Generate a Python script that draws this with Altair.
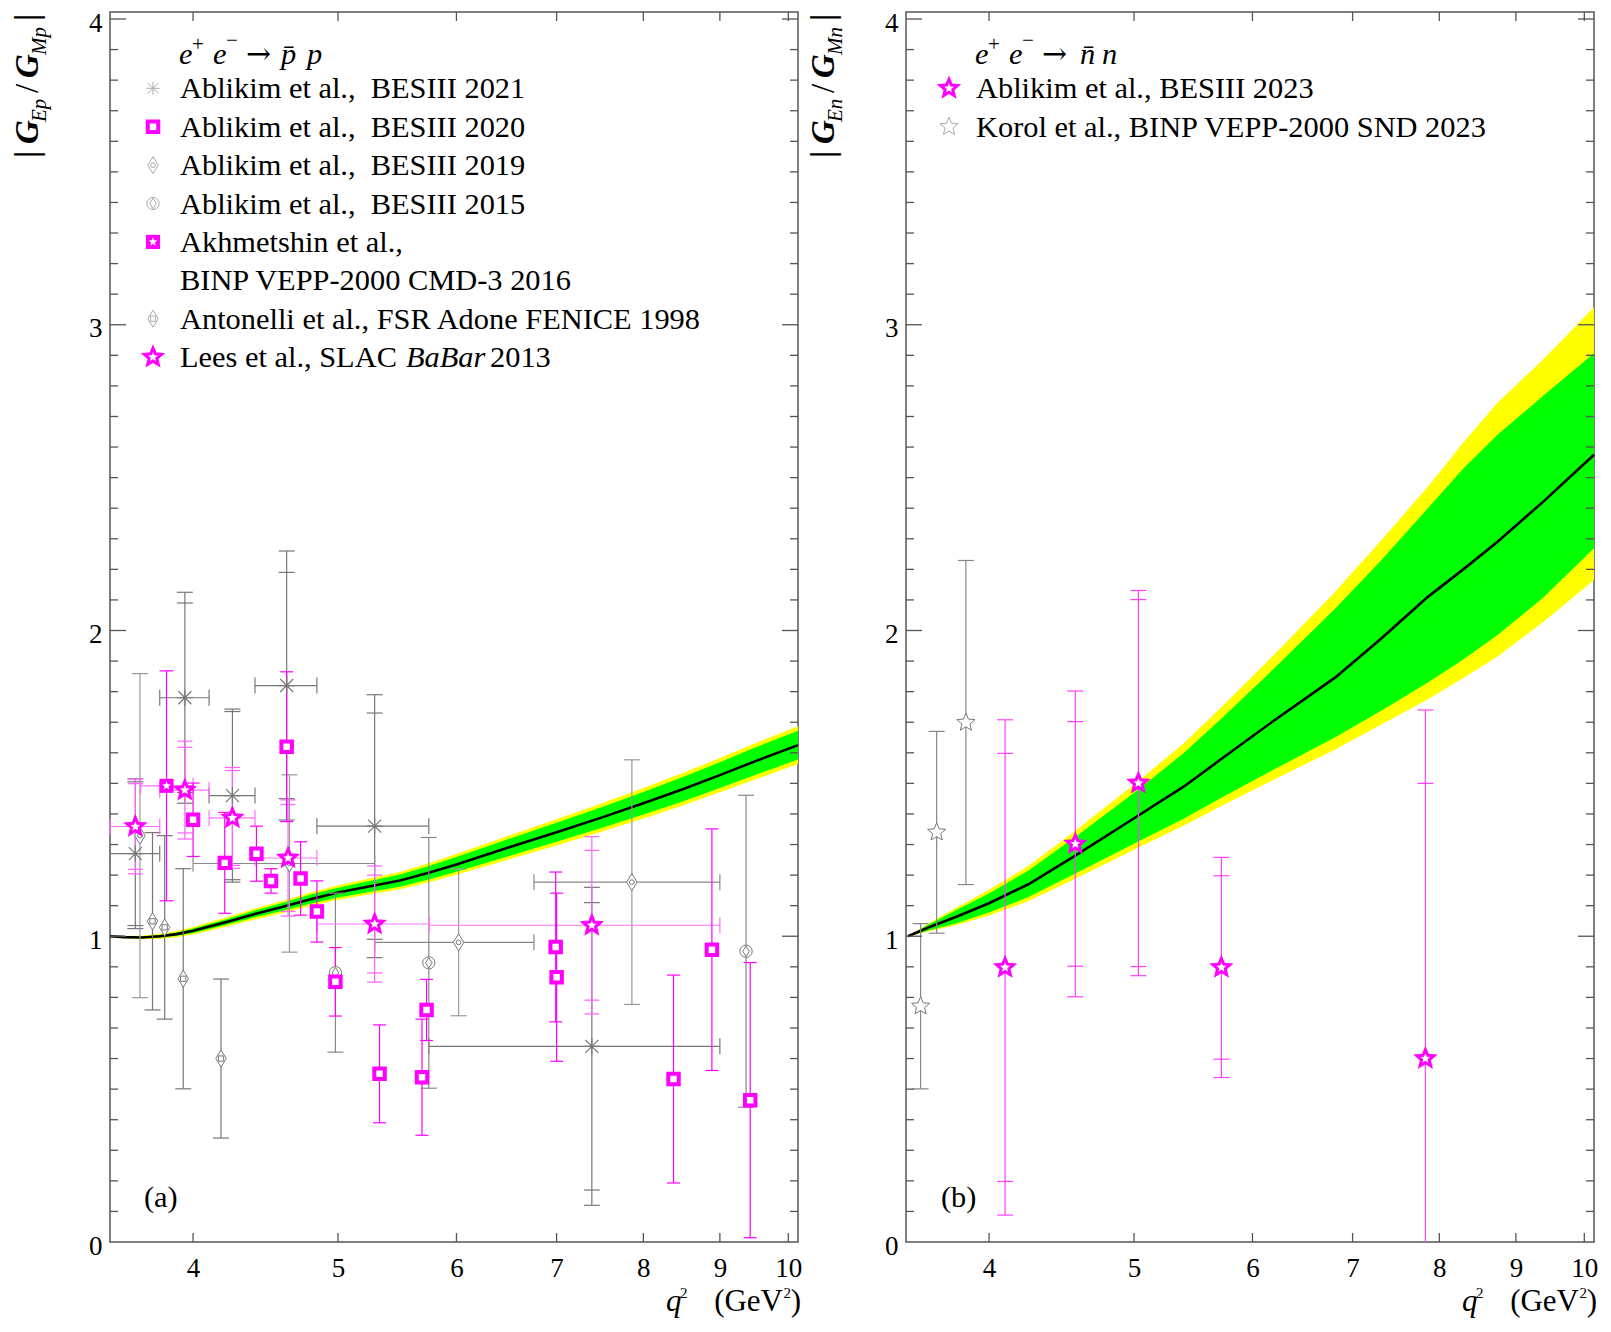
import math
import altair as alt
import pandas as pd

# ---------------- values ----------------
# (a) |G_Ep / G_Mp|
B21_x   = [3.66, 3.95, 4.25, 4.62, 5.29, 7.39]
B21_xlo = [3.52, 3.80, 4.10, 4.40, 4.84, 5.75]
B21_xhi = [3.80, 4.10, 4.40, 4.84, 5.75, 9.00]
B21_y   = [1.27, 1.78, 1.46, 1.82, 1.36, 0.64]
B21_es  = [0.235, 0.31, 0.275, 0.37, 0.37, 0.47]
B21_et  = [0.245, 0.345, 0.283, 0.44, 0.43, 0.52]

B20_x = [4.00, 4.20, 4.41, 4.51, 4.62, 4.72, 4.84, 4.98, 5.33, 5.69, 5.73, 6.99, 7.00, 8.38, 8.89, 9.43]
B20_y = [1.381, 1.240, 1.270, 1.181, 1.620, 1.189, 1.081, 0.851, 0.550, 0.539, 0.759, 0.965, 0.866, 0.533, 0.956, 0.464]
B20_e = [0.12, 0.165, 0.09, 0.04, 0.245, 0.12, 0.10, 0.112, 0.16, 0.19, 0.10, 0.245, 0.275, 0.34, 0.395, 0.45]

B19_x   = [3.686, 4.64, 6.02, 7.86]
B19_xlo = [None, 4.00, 5.29, 6.76]
B19_xhi = [None, 5.29, 6.76, 9.00]
B19_y   = [1.329, 1.238, 0.980, 1.177]
B19_e   = [0.53, 0.29, 0.24, 0.40]

B15_x = [4.98, 5.75, 9.37]
B15_y = [0.881, 0.913, 0.951]
B15_e = [0.26, 0.41, 0.51]

CMD_x = [3.84]
CMD_xlo = [3.69]
CMD_xhi = [4.00]
CMD_y = [1.492]
CMD_e = [0.376]

FEN_x = [3.758, 3.829, 3.94, 4.176]
FEN_y = [1.049, 1.029, 0.861, 0.600]
FEN_e = [0.29, 0.30, 0.36, 0.26]

BAB_x   = [3.66, 3.95, 4.25, 4.63, 5.29, 7.39]
BAB_xlo = [3.52, 3.80, 4.10, 4.40, 4.84, 5.75]
BAB_xhi = [3.80, 4.10, 4.40, 4.84, 5.75, 9.00]
BAB_y   = [1.359, 1.478, 1.387, 1.256, 1.040, 1.036]
BAB_es  = [0.14, 0.14, 0.155, 0.175, 0.16, 0.245]
BAB_et  = [0.155, 0.16, 0.165, 0.19, 0.19, 0.29]

# model curve and bands, panel (a)
CA_q  = [3.52, 3.60, 3.70, 3.80, 3.90, 4.00, 4.20, 4.40, 4.60, 4.80, 5.00, 5.50, 5.75, 6.00, 6.50, 7.00, 7.50, 8.00, 8.50, 9.00, 9.50, 10.15]
CA_c  = [1.000, 0.997, 0.996, 1.000, 1.007, 1.018, 1.045, 1.073, 1.097, 1.122, 1.143, 1.182, 1.208, 1.235, 1.290, 1.340, 1.388, 1.435, 1.481, 1.527, 1.572, 1.625]
CA_g  = [0.000, 0.001, 0.002, 0.004, 0.005, 0.007, 0.009, 0.011, 0.013, 0.015, 0.016, 0.020, 0.022, 0.024, 0.028, 0.031, 0.034, 0.037, 0.040, 0.042, 0.045, 0.047]
CA_y  = [0.002, 0.004, 0.006, 0.008, 0.010, 0.012, 0.015, 0.018, 0.020, 0.022, 0.024, 0.028, 0.031, 0.034, 0.039, 0.043, 0.046, 0.050, 0.053, 0.056, 0.059, 0.062]

# (b) |G_En / G_Mn|
N23_x  = [4.10, 4.568, 5.034, 5.72, 7.83]
N23_y  = [0.898, 1.302, 1.501, 0.898, 0.600]
N23_es = [0.70, 0.40, 0.60, 0.30, 0.90]
N23_et = [0.81, 0.50, 0.63, 0.36, 1.14]

SND_x = [3.60, 3.69, 3.86]
SND_y = [0.771, 1.340, 1.699]
SND_e = [0.27, 0.33, 0.53]

CB_q   = [3.531, 3.65, 3.80, 4.00, 4.25, 4.568, 5.034, 5.40, 5.728, 6.20, 6.81, 7.30, 7.86, 8.30, 8.75, 9.40, 10.15]
CB_c   = [1.000, 1.030, 1.063, 1.108, 1.170, 1.264, 1.395, 1.490, 1.582, 1.705, 1.845, 1.970, 2.110, 2.200, 2.290, 2.424, 2.575]
CB_glo = [1.000, 1.020, 1.042, 1.078, 1.128, 1.205, 1.310, 1.385, 1.455, 1.545, 1.650, 1.735, 1.830, 1.905, 1.985, 2.110, 2.269]
CB_ghi = [1.000, 1.040, 1.085, 1.140, 1.215, 1.325, 1.480, 1.600, 1.715, 1.875, 2.070, 2.225, 2.400, 2.530, 2.640, 2.770, 2.907]
CB_ylo = [1.000, 1.016, 1.036, 1.068, 1.115, 1.188, 1.290, 1.362, 1.428, 1.512, 1.610, 1.690, 1.775, 1.845, 1.915, 2.030, 2.165]
CB_yhi = [1.000, 1.044, 1.092, 1.152, 1.230, 1.345, 1.508, 1.632, 1.752, 1.920, 2.125, 2.290, 2.470, 2.615, 2.745, 2.890, 3.057]

# axis labels
X_TICKS = [4, 5, 6, 7, 8, 9, 10]
Y_TICKS = [0, 1, 2, 3, 4]
Y_MINOR = [i / 10 for i in range(1, 41) if i % 10]

# ---------------- styling ----------------
W, H = 688, 1230
XDOM = [3.52, 10.15]
YDOM = [0.0, 4.0229]
FONT = "Liberation Serif"
MAG = "#ff00ff"
FRAME = "#555555"
FS = 30.4

xs = alt.Scale(type="log", domain=XDOM, nice=False)
ys = alt.Scale(domain=YDOM, nice=False, zero=False)

XAX = alt.Axis(values=X_TICKS, format="d", title=None, grid=False, domain=False, ticks=False,
               tickSize=0, labelPadding=13, labelFont=FONT, labelFontSize=27, labelColor="black",
               labelFlush=False, labelOverlap=False)
YAX = alt.Axis(values=Y_TICKS, format="d", title=None, grid=False, domain=False, ticks=False,
               tickSize=0, labelPadding=8, labelOffset=4, labelFont=FONT, labelFontSize=27,
               labelColor="black", labelFlush=False, labelOverlap=False)


def X(f):
    return alt.X(f"{f}:Q", scale=xs, axis=XAX)


def Y(f):
    return alt.Y(f"{f}:Q", scale=ys, axis=YAX)


def star_path(r_in=0.45):
    pts = []
    for k in range(10):
        a = math.radians(-90 + 36 * k)
        r = 1.0 if k % 2 == 0 else r_in
        pts.append(f"{r * math.cos(a):.3f},{r * math.sin(a):.3f}")
    return "M" + "L".join(pts) + "Z"


STAR = star_path()
AST = "M-1,-1L1,1M-1,1L1,-1M0,-1.25L0,1.25M-1.25,0L1.25,0"
DIAM = "M0,-1L0.62,0L0,1L-0.62,0Z"


def vbars(x, y, et, es=None, color="#888", width=1.2, cap=14, clip=False):
    d = pd.DataFrame({"x": x, "lo": [a - b for a, b in zip(y, et)], "hi": [a + b for a, b in zip(y, et)]})
    out = [alt.Chart(d).mark_rule(color=color, strokeWidth=width, clip=clip, opacity=1)
           .encode(x=X("x"), y=Y("lo"), y2="hi")]
    cx, cy = [], []
    for i in range(len(x)):
        cx += [x[i], x[i]]
        cy += [y[i] - et[i], y[i] + et[i]]
        if es is not None:
            cx += [x[i], x[i]]
            cy += [y[i] - es[i], y[i] + es[i]]
    c = pd.DataFrame({"x": cx, "v": cy})
    out.append(alt.Chart(c).mark_tick(orient="horizontal", size=cap, thickness=width, color=color,
                                      clip=clip, opacity=1).encode(x=X("x"), y=Y("v")))
    return out


def hbars(xlo, xhi, y, color="#888", width=1.2, cap=16):
    rows = [(a, b, c) for a, b, c in zip(xlo, xhi, y) if a is not None]
    d = pd.DataFrame(rows, columns=["a", "b", "y"])
    e = pd.DataFrame({"x": list(d["a"]) + list(d["b"]), "y": list(d["y"]) * 2})
    return [
        alt.Chart(d).mark_rule(color=color, strokeWidth=width, opacity=1).encode(x=X("a"), x2="b", y=Y("y")),
        alt.Chart(e).mark_tick(orient="vertical", size=cap, thickness=width, color=color, opacity=1)
        .encode(x=X("x"), y=Y("y")),
    ]


def pts(x, y, **mk):
    d = pd.DataFrame({"x": x, "y": y})
    return alt.Chart(d).mark_point(opacity=1, **mk).encode(x=X("x"), y=Y("y"))


ONE = pd.DataFrame({"k": [0]})


def txt(s, x, y, size=FS, style="normal", weight="normal", align="left", angle=0,
        baseline="alphabetic", color="black", font=FONT):
    kw = dict(text=s, font=font, fontSize=size, fontStyle=style, fontWeight=weight,
              align=align, baseline=baseline, color=color)
    if angle:
        kw["angle"] = angle
    return alt.Chart(ONE).mark_text(**kw).encode(x=alt.value(x), y=alt.value(y))


def sym(x, y, **mk):
    return alt.Chart(ONE).mark_point(opacity=1, **mk).encode(x=alt.value(x), y=alt.value(y))


def frame_ticks():
    out = []
    dmaj = pd.DataFrame({"v": Y_TICKS[1:]})
    dmin = pd.DataFrame({"v": Y_MINOR})
    dx = pd.DataFrame({"v": X_TICKS})
    for d, ln in [(dmaj, 16), (dmin, 8)]:
        out.append(alt.Chart(d).mark_rule(color=FRAME, strokeWidth=1.3)
                   .encode(y=Y("v"), x=alt.value(0), x2=alt.value(ln)))
        out.append(alt.Chart(d).mark_rule(color=FRAME, strokeWidth=1.3)
                   .encode(y=Y("v"), x=alt.value(W - ln), x2=alt.value(W)))
    out.append(alt.Chart(dx).mark_rule(color=FRAME, strokeWidth=1.3)
               .encode(x=X("v"), y=alt.value(0), y2=alt.value(9)))
    out.append(alt.Chart(dx).mark_rule(color=FRAME, strokeWidth=1.3)
               .encode(x=X("v"), y=alt.value(H - 9), y2=alt.value(H)))
    return out


def ytitle(s1, s2):
    bx, sx = -72, -64
    return [
        txt("|", bx, 146, size=33, weight="bold", angle=270),
        txt("G", bx, 132, size=33, style="italic", weight="bold", angle=270),
        txt(s1, sx, 110, size=21, style="italic", angle=270),
        txt("/", bx, 81, size=33, angle=270),
        txt("G", bx, 66, size=33, style="italic", weight="bold", angle=270),
        txt(s2, sx, 43, size=21, style="italic", angle=270),
        txt("|", bx, 9, size=33, weight="bold", angle=270),
    ]


def xtitle():
    b = 69
    return [
        txt("q", W - 132, H + b, size=31, style="italic"),
        txt("2", W - 118, H + b - 13, size=15),
        txt("(GeV", W - 15, H + b, size=31, align="right"),
        txt("2", W - 7, H + b - 13, size=15, align="right"),
        txt(")", W + 3, H + b, size=31, align="right"),
    ]


def header(bar_text, last_letter, bx, lx):
    return [
        txt("e", 69, 52, style="italic"),
        txt("+", 82, 39, size=21),
        txt("e", 103, 52, style="italic"),
        txt("\u2212", 116, 35, size=21),
        txt("\u2192", 136, 52, size=30, font="DejaVu Serif"),
        txt(bar_text, bx, 52, style="italic"),
        txt(last_letter, lx, 52, style="italic"),
    ]


ROWS = [86.3, 124.7, 163.1, 201.5, 239.9, 278.3, 316.7, 355.1]
SX, TX = 43, 70
LG = "#aaaaaa"

SQ_SIZE, SQ_SW = 110, 4.0
ST_SIZE, ST_SW = 320, 3.0

# ---------------- panel (a) ----------------
bandA = pd.DataFrame({
    "q": CA_q, "c": CA_c,
    "glo": [a - b for a, b in zip(CA_c, CA_g)], "ghi": [a + b for a, b in zip(CA_c, CA_g)],
    "ylo": [a - b for a, b in zip(CA_c, CA_y)], "yhi": [a + b for a, b in zip(CA_c, CA_y)],
})

la = []
la.append(alt.Chart(bandA).mark_area(color="#ffff00", opacity=1).encode(x=X("q"), y=Y("ylo"), y2="yhi"))
la.append(alt.Chart(bandA).mark_area(color="#00ff00", opacity=1).encode(x=X("q"), y=Y("glo"), y2="ghi"))
la.append(alt.Chart(bandA).mark_line(color="black", strokeWidth=2.6).encode(x=X("q"), y=Y("c")))

# gray data sets
la += hbars(B21_xlo, B21_xhi, B21_y, color="#777777")
la += vbars(B21_x, B21_y, B21_et, B21_es, color="#777777", cap=16)
la += hbars(B19_xlo, B19_xhi, B19_y, color="#888888")
la += vbars(B19_x, B19_y, B19_e, color="#999999", cap=16)
la += vbars(B15_x, B15_y, B15_e, color="#888888", cap=16)
la += vbars(FEN_x, FEN_y, FEN_e, color="#777777", cap=16)
# magenta data sets
la += hbars(BAB_xlo, BAB_xhi, BAB_y, color="#ff70ff")
la += vbars(BAB_x, BAB_y, BAB_et, BAB_es, color="#ff60ff", cap=15)
la += hbars(CMD_xlo, CMD_xhi, CMD_y, color="#ff70ff")
la += vbars(CMD_x, CMD_y, CMD_e, color=MAG, cap=14)
la += vbars(B20_x, B20_y, B20_e, color=MAG, cap=13)

# markers
la.append(pts(B21_x, B21_y, shape=AST, size=169, filled=False, stroke="#777777", strokeWidth=1.2))
la.append(pts(FEN_x, FEN_y, shape=DIAM, size=289, filled=True, fill="white", stroke="#777777", strokeWidth=1))
la.append(pts(FEN_x, FEN_y, shape="square", size=28, filled=False, stroke="#777777", strokeWidth=1))
la.append(pts(B19_x, B19_y, shape=DIAM, size=289, filled=True, fill="white", stroke="#777777", strokeWidth=1))
la.append(pts(B19_x, B19_y, shape="circle", size=22, filled=False, stroke="#777777", strokeWidth=1))
la.append(pts(B15_x, B15_y, shape="circle", size=150, filled=True, fill="white", stroke="#777777", strokeWidth=1))
la.append(pts(B15_x, B15_y, shape=DIAM, size=110, filled=False, stroke="#777777", strokeWidth=1))
la.append(pts(BAB_x, BAB_y, shape=STAR, size=ST_SIZE, filled=True, fill="white", stroke=MAG, strokeWidth=ST_SW))
la.append(pts(CMD_x, CMD_y, shape="square", size=200, filled=True, fill=MAG, stroke=MAG, strokeWidth=0))
la.append(pts(CMD_x, CMD_y, shape=STAR, size=80, filled=True, fill="white", strokeWidth=0))
la.append(pts(B20_x, B20_y, shape="square", size=SQ_SIZE, filled=True, fill="white", stroke=MAG, strokeWidth=SQ_SW))

la += frame_ticks()

# legend (a)
la += header("p\u0304", "p", 171, 197)
la.append(sym(SX, ROWS[0] - 10, shape=AST, size=110, filled=False, stroke=LG, strokeWidth=1))
la.append(sym(SX, ROWS[1] - 10, shape="square", size=SQ_SIZE, filled=True, fill="white", stroke=MAG, strokeWidth=SQ_SW))
la.append(sym(SX, ROWS[2] - 10, shape=DIAM, size=289, filled=True, fill="white", stroke=LG, strokeWidth=1))
la.append(sym(SX, ROWS[2] - 10, shape="circle", size=22, filled=False, stroke=LG, strokeWidth=1))
la.append(sym(SX, ROWS[3] - 10, shape="circle", size=150, filled=True, fill="white", stroke=LG, strokeWidth=1))
la.append(sym(SX, ROWS[3] - 10, shape=DIAM, size=110, filled=False, stroke=LG, strokeWidth=1))
la.append(sym(SX, ROWS[4] - 10, shape="square", size=200, filled=True, fill=MAG, strokeWidth=0))
la.append(sym(SX, ROWS[4] - 10, shape=STAR, size=80, filled=True, fill="white", strokeWidth=0))
la.append(sym(SX, ROWS[6] - 10, shape=DIAM, size=289, filled=True, fill="white", stroke=LG, strokeWidth=1))
la.append(sym(SX, ROWS[6] - 10, shape="square", size=28, filled=False, stroke=LG, strokeWidth=1))
la.append(sym(SX, ROWS[7] - 10, shape=STAR, size=ST_SIZE, filled=True, fill="white", stroke=MAG, strokeWidth=ST_SW))
la.append(txt("Ablikim et al.,\u00a0 BESIII 2021", TX, ROWS[0]))
la.append(txt("Ablikim et al.,\u00a0 BESIII 2020", TX, ROWS[1]))
la.append(txt("Ablikim et al.,\u00a0 BESIII 2019", TX, ROWS[2]))
la.append(txt("Ablikim et al.,\u00a0 BESIII 2015", TX, ROWS[3]))
la.append(txt("Akhmetshin et al.,", TX, ROWS[4]))
la.append(txt("BINP VEPP-2000 CMD-3 2016", TX, ROWS[5]))
la.append(txt("Antonelli et al., FSR Adone FENICE 1998", TX, ROWS[6]))
la.append(txt("Lees et al., SLAC", TX, ROWS[7]))
la.append(txt("BaBar", 296, ROWS[7], style="italic"))
la.append(txt("2013", 380, ROWS[7]))
la.append(txt("(a)", 34, H - 35))
la += ytitle("Ep", "Mp")
la += xtitle()

left = alt.layer(*la).properties(width=W, height=H)

# ---------------- panel (b) ----------------
bandB = pd.DataFrame({"q": CB_q, "c": CB_c, "glo": CB_glo, "ghi": CB_ghi, "ylo": CB_ylo, "yhi": CB_yhi})

lb = []
lb.append(alt.Chart(bandB).mark_area(color="#ffff00", opacity=1).encode(x=X("q"), y=Y("ylo"), y2="yhi"))
lb.append(alt.Chart(bandB).mark_area(color="#00ff00", opacity=1).encode(x=X("q"), y=Y("glo"), y2="ghi"))
lb.append(alt.Chart(bandB).mark_line(color="black", strokeWidth=2.6).encode(x=X("q"), y=Y("c")))

lb += vbars(SND_x, SND_y, SND_e, color="#888888", cap=16)
lb += vbars(N23_x, N23_y, N23_et, N23_es, color="#ff40ff", cap=16, clip=True)
lb.append(pts(SND_x, SND_y, shape=STAR, size=360, filled=True, fill="white", stroke="#777777", strokeWidth=1))
lb.append(pts(N23_x, N23_y, shape=STAR, size=ST_SIZE, filled=True, fill="white", stroke=MAG, strokeWidth=ST_SW))

lb += frame_ticks()

lb += header("n\u0304", "n", 174, 196)
lb.append(sym(SX, ROWS[0] - 10, shape=STAR, size=ST_SIZE, filled=True, fill="white", stroke=MAG, strokeWidth=ST_SW))
lb.append(sym(SX, ROWS[1] - 10, shape=STAR, size=360, filled=True, fill="white", stroke=LG, strokeWidth=1))
lb.append(txt("Ablikim et al., BESIII 2023", TX, ROWS[0]))
lb.append(txt("Korol et al., BINP VEPP-2000 SND 2023", TX, ROWS[1]))
lb.append(txt("(b)", 35, H - 35))
lb += ytitle("En", "Mn")
lb += xtitle()

right = alt.layer(*lb).properties(width=W, height=H)

chart = (
    alt.hconcat(left, right, spacing=3)
    .properties(padding={"left": 3, "top": 0, "right": 0, "bottom": 1}, background="white")
    .configure_view(stroke=FRAME, strokeWidth=1.5)
)

chart.save("out.html", embed_options={"renderer": "svg", "actions": False})
